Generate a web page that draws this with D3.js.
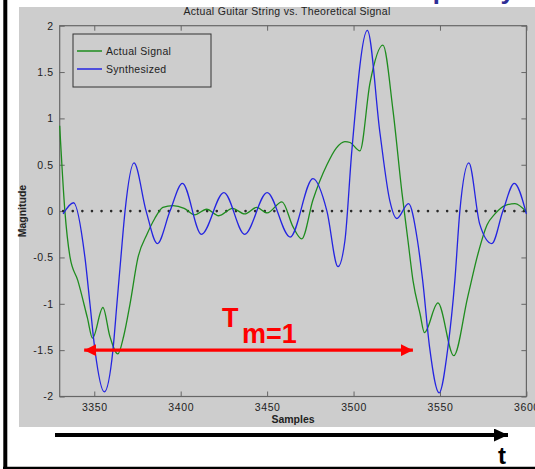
<!DOCTYPE html>
<html>
<head>
<meta charset="utf-8">
<script src="https://cdn.jsdelivr.net/npm/d3@7"></script>
<style>
body { margin: 0; background: #fff; }
svg { display: block; }
</style>
</head>
<body>
<script>
const w = 535, h = 469;

const xTicks = [3350, 3400, 3450, 3500, 3550, 3600];
const yTicks = [-2, -1.5, -1, -0.5, 0, 0.5, 1, 1.5, 2];
const seriesNames = ['Actual Signal', 'Synthesized'];

// [sample, magnitude]
const actualSignal = [
  [3330, 0.92], [3333, 0.0], [3336, -0.5], [3340.5, -0.75], [3346, -1.15],
  [3349, -1.37], [3355, -1.04], [3359, -1.35], [3363.7, -1.54], [3367, -1.35],
  [3370.7, -1.0], [3375.3, -0.5], [3380.5, -0.25], [3385, -0.08], [3389.7, 0.04],
  [3395.5, 0.06], [3402, 0.03], [3408, -0.04], [3415, 0.02], [3422, -0.05],
  [3430, 0.03], [3437, -0.03], [3444, 0.04], [3450, -0.02], [3458.6, 0.1],
  [3465, -0.17], [3470, -0.3], [3476.5, 0.12], [3484.6, 0.5], [3490, 0.68],
  [3495, 0.75], [3498, 0.74], [3503.7, 0.65], [3509.5, 1.38], [3517, 1.79],
  [3522.8, 1.09], [3528, 0.2], [3531.5, -0.32], [3534.4, -0.75], [3538.5, -1.11],
  [3541, -1.31], [3548.8, -0.99], [3558, -1.56], [3566, -0.93], [3572, -0.46],
  [3577.2, -0.15], [3581.8, -0.03], [3587.6, 0.06], [3593.4, 0.08], [3600, -0.01]
];

const synthesized = [
  [3332, -0.03], [3338, 0.09], [3344.6, -0.5], [3347.5, -1.0], [3350.4, -1.5],
  [3355.8, -1.95], [3360.8, -1.5], [3363.1, -1.0], [3365.4, -0.5], [3367.8, 0.0],
  [3373, 0.52], [3380, 0.0], [3386.5, -0.35], [3393.8, 0.0], [3401, 0.3],
  [3412, -0.25], [3425, 0.2], [3437, -0.25], [3450, 0.2], [3463.3, -0.28],
  [3476.5, 0.35], [3484.6, 0.0], [3491, -0.6], [3495, -0.32], [3499, 0.65],
  [3508, 1.95], [3515.3, 0.84], [3521, 0.11], [3525, -0.08], [3531.8, 0.08],
  [3537, -0.32], [3540, -0.75], [3544, -1.47], [3549.5, -1.96], [3554.6, -1.47],
  [3558.6, -0.75], [3561.5, 0.0], [3566.7, 0.52], [3573, -0.14], [3580, -0.35],
  [3586.4, 0.0], [3593, 0.3], [3600, -0.03]
];

// period annotation, in data units
const periodStart = 3343, periodEnd = 3535.5, periodLevel = -1.5;

const colors = ['#1e8c1e', '#2424e0'];
const axisColor = '#666';
const font = 'Liberation Sans, Arial, sans-serif';

const x = d3.scaleLinear().domain([3330, 3600]).range([59.7, 526.4]);
const y = d3.scaleLinear().domain([-2, 2]).range([396.5, 25.7]);

const root = d3.select('body').append('svg')
  .attr('width', w).attr('height', h);

// grey figure background
root.append('rect')
  .attr('x', 19).attr('y', 7).attr('width', w - 19).attr('height', 420)
  .attr('fill', '#cdcdcd');

// slide heading, mostly above the visible area
root.append('text')
  .attr('x', 515).attr('y', -1.5)
  .attr('text-anchor', 'end')
  .attr('font-family', font).attr('font-weight', 'bold').attr('font-size', 26)
  .attr('fill', '#2e2e96')
  .text('Frequency');

root.append('text')
  .attr('x', 287).attr('y', 15)
  .attr('text-anchor', 'middle')
  .attr('font-family', font).attr('font-size', 10.5)
  .attr('letter-spacing', 0.3)
  .attr('fill', '#222')
  .text('Actual Guitar String vs. Theoretical Signal');

// axes, ticks inside on all four sides
const [x0, x1] = x.range();
const [y0, y1] = y.range();

const styleAxis = g => {
  g.select('.domain').remove();
  g.selectAll('.tick line').attr('stroke', axisColor);
  g.selectAll('.tick text')
    .attr('fill', '#222').attr('font-family', font).attr('font-size', 10.5)
    .attr('letter-spacing', 0.6);
};

root.append('g').attr('transform', `translate(0,${y0})`)
  .call(d3.axisBottom(x).tickValues(xTicks).tickSizeInner(-5).tickSizeOuter(0).tickPadding(7)
    .tickFormat(d3.format('d')))
  .call(styleAxis);
root.append('g').attr('transform', `translate(0,${y1})`)
  .call(d3.axisTop(x).tickValues(xTicks).tickSizeInner(-5).tickSizeOuter(0).tickFormat(''))
  .call(styleAxis);
root.append('g').attr('transform', `translate(${x0},0)`)
  .call(d3.axisLeft(y).tickValues(yTicks).tickSizeInner(-5).tickSizeOuter(0).tickPadding(6)
    .tickFormat(d => String(d)))
  .call(styleAxis);
root.append('g').attr('transform', `translate(${x1},0)`)
  .call(d3.axisRight(y).tickValues(yTicks).tickSizeInner(-5).tickSizeOuter(0).tickFormat(''))
  .call(styleAxis);

root.append('rect')
  .attr('x', x0).attr('y', y1).attr('width', x1 - x0).attr('height', y0 - y1)
  .attr('fill', 'none').attr('stroke', axisColor).attr('stroke-width', 1.2);

root.append('text')
  .attr('transform', `translate(26,${(y0 + y1) / 2}) rotate(-90)`)
  .attr('text-anchor', 'middle')
  .attr('font-family', font).attr('font-weight', 'bold').attr('font-size', 10.5)
  .attr('fill', '#222')
  .text('Magnitude');

root.append('text')
  .attr('x', (x0 + x1) / 2).attr('y', 423)
  .attr('text-anchor', 'middle')
  .attr('font-family', font).attr('font-weight', 'bold').attr('font-size', 10.5)
  .attr('fill', '#222')
  .text('Samples');

// dotted zero line
root.append('line')
  .attr('x1', x(3332)).attr('x2', x(3600)).attr('y1', y(0)).attr('y2', y(0))
  .attr('stroke', '#2a2a2a').attr('stroke-width', 2.6)
  .attr('stroke-linecap', 'round').attr('stroke-dasharray', '0,9.6');

const lineFun = d3.line()
  .x(d => x(d[0]))
  .y(d => y(d[1]))
  .curve(d3.curveMonotoneX);

[actualSignal, synthesized].forEach((s, i) => {
  root.append('path')
    .attr('d', lineFun(s))
    .attr('fill', 'none')
    .attr('stroke', colors[i])
    .attr('stroke-width', 1.3);
});

// legend
const leg = root.append('g');
leg.append('rect')
  .attr('x', 73).attr('y', 34).attr('width', 138).attr('height', 53)
  .attr('fill', 'none').attr('stroke', '#333').attr('stroke-width', 1);
seriesNames.forEach((name, i) => {
  const ly = 51 + i * 18;
  leg.append('line')
    .attr('x1', 77).attr('x2', 102).attr('y1', ly).attr('y2', ly)
    .attr('stroke', colors[i]).attr('stroke-width', 1.5);
  leg.append('text')
    .attr('x', 106).attr('y', ly + 4)
    .attr('font-family', font).attr('font-size', 10.5)
    .attr('letter-spacing', 0.3)
    .attr('fill', '#222')
    .text(name);
});

// red period arrow
const defs = root.append('defs');
const marker = (id, color, len, half) => {
  defs.append('marker')
    .attr('id', id).attr('viewBox', `0 ${-half} ${len} ${2 * half}`)
    .attr('refX', len).attr('refY', 0)
    .attr('markerUnits', 'userSpaceOnUse')
    .attr('markerWidth', len).attr('markerHeight', 2 * half)
    .attr('orient', 'auto-start-reverse')
    .append('path')
    .attr('d', `M0,${-half}L${len},0L0,${half}Z`)
    .attr('fill', color);
};
marker('redHead', '#ff0000', 12, 6);
marker('blackHead', '#000', 14, 6.5);

root.append('line')
  .attr('x1', x(periodStart) + 2).attr('x2', x(periodEnd) - 2)
  .attr('y1', y(periodLevel)).attr('y2', y(periodLevel))
  .attr('stroke', '#ff0000').attr('stroke-width', 3.3)
  .attr('marker-start', 'url(#redHead)').attr('marker-end', 'url(#redHead)');

const tm = root.append('text')
  .attr('x', 222).attr('y', 327)
  .attr('font-family', font).attr('font-weight', 'bold').attr('font-size', 27)
  .attr('fill', '#ff0000');
tm.append('tspan').text('T');
tm.append('tspan').attr('x', 242).attr('y', 343).text('m=1');

// time arrow below the figure
root.append('line')
  .attr('x1', 55).attr('x2', 508).attr('y1', 435).attr('y2', 435)
  .attr('stroke', '#000').attr('stroke-width', 4)
  .attr('marker-end', 'url(#blackHead)');

root.append('text')
  .attr('x', 498).attr('y', 464)
  .attr('font-family', font).attr('font-weight', 'bold').attr('font-size', 24)
  .attr('fill', '#000')
  .text('t');

// slide frame
root.append('line')
  .attr('x1', 5.3).attr('x2', 5.3).attr('y1', 0).attr('y2', 469)
  .attr('stroke', '#000').attr('stroke-width', 4);
root.append('line')
  .attr('x1', 3).attr('x2', w).attr('y1', 468).attr('y2', 468)
  .attr('stroke', '#000').attr('stroke-width', 2.5);
</script>
</body>
</html>
